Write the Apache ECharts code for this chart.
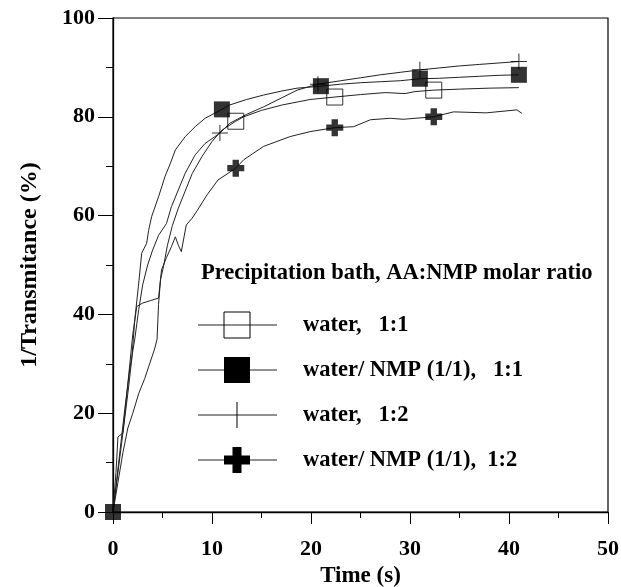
<!DOCTYPE html>
<html>
<head>
<meta charset="utf-8">
<script src="https://cdn.jsdelivr.net/npm/echarts@6/dist/echarts.min.js"></script>
<style>
  html, body { margin: 0; padding: 0; background: #fff; }
  #chart { width: 621px; height: 587px; }
</style>
</head>
<body>
<div id="chart"></div>
<script>
// Axis ticks
const xTicks = [0, 10, 20, 30, 40, 50];
const yTicks = [0, 20, 40, 60, 80, 100];

// Legend texts
const legendTitle = 'Precipitation bath, AA:NMP molar ratio';
const seriesNames = ['water,   1:1', 'water/ NMP (1/1),   1:1', 'water,   1:2', 'water/ NMP (1/1),  1:2'];

// water, 1:1  — time (s) / 1/transmittance (%)
const w11T = [0, 0.5, 1, 1.5, 2, 2.6, 3.2, 3.6, 4.2, 4.45, 4.6, 4.8, 5.1, 5.5, 6, 6.6, 7.3, 8, 9, 10, 11, 12.4, 13.2, 15, 17.1, 19.9, 22.4, 25, 27.5, 29.5, 30.5, 32.4, 35, 38, 41];
const w11V = [0, 6, 12, 17, 20, 24, 27, 29.4, 33, 35, 42, 47, 49.7, 54, 58, 61.5, 65, 68.5, 72, 75, 77.3, 79.1, 80, 81.3, 82.4, 83.5, 84, 84.5, 84.9, 84.7, 85.1, 85.4, 85.6, 85.8, 85.9];
const w11Marks = [12.4, 22.4, 32.4];

// water/NMP (1/1), 1:1
const wn11T = [0, 0.5, 1, 1.5, 1.9, 2.2, 2.56, 2.9, 3.4, 3.6, 3.9, 4.6, 5.25, 5.8, 6.3, 7.3, 8.3, 9.3, 11, 11.8, 13.5, 15.2, 17, 18.6, 21, 23, 25, 27, 29, 31, 33, 35, 37, 39, 41];
const wn11V = [0, 8, 16, 24, 31, 38.9, 45.6, 52.4, 54.4, 57, 59.8, 63.8, 67.9, 70.6, 73.3, 76, 78, 79.7, 81.5, 82.4, 83.5, 84.4, 85.2, 85.8, 86.2, 86.6, 86.9, 87.1, 87.3, 87.7, 87.8, 88, 88.2, 88.4, 88.5];
const wn11Marks = [0, 11, 21, 31, 41];

// water, 1:2
const w12T = [0, 0.4, 0.8, 1.2, 1.7, 2.2, 2.6, 3, 3.5, 4, 4.6, 5.4, 5.9, 6.6, 7.3, 8.3, 9.3, 10.8, 11.8, 13.5, 15.2, 17, 18.6, 20.7, 23, 25, 27, 29, 31, 33, 35, 37, 39, 41];
const w12V = [0, 7, 14, 21, 29, 35, 41, 46, 50, 53, 56, 58.4, 61.8, 65.2, 68.6, 72.3, 74.6, 76.7, 78.7, 80.5, 82, 83.8, 85.4, 86.6, 87.3, 87.9, 88.5, 89, 89.5, 89.9, 90.3, 90.6, 90.9, 91.2];
const w12Marks = [10.8, 20.7, 31, 41];

// water/NMP (1/1), 1:2
const wn12T = [0, 0.3, 0.5, 1, 1.3, 1.7, 2, 2.4, 3, 3.8, 4.6, 4.9, 5.4, 5.9, 6.3, 6.6, 6.9, 7.4, 8, 8.5, 9.5, 10.6, 12.4, 13.2, 15.2, 17.9, 19.9, 22.4, 24.3, 26, 28, 29.3, 32.4, 34.4, 37.7, 40.8, 41.3];
const wn12V = [0, 8, 15.2, 16, 22, 30, 36, 41.6, 42.3, 42.8, 43.3, 49, 51.5, 53.7, 55.7, 54, 52.7, 58.1, 59.5, 61, 64.2, 67.2, 69.6, 71.3, 74, 76, 77, 77.8, 78, 79.4, 79.7, 79.5, 80, 81, 80.8, 81.4, 80.7];
const wn12Marks = [12.4, 22.4, 32.4];

const FONT = "'Liberation Serif', 'Times New Roman', serif";
const INK = '#000';

// Marker shapes
const THIN_PLUS = 'path://M7.5,0h1v7.5h7.5v1h-7.5v7.5h-1v-7.5h-7.5v-1h7.5z';
const THICK_PLUS = 'path://M5,0h6v5h5v6h-5v5h-6v-5h-5v-6h5z';

function pairs(t, v) { return t.map((x, i) => [x, v[i]]); }
function marks(t, v, at) { return at.map(x => [x, v[t.indexOf(x)]]); }

function curve(name, t, v) {
  return {
    name, type: 'line', data: pairs(t, v), showSymbol: false, smooth: false,
    lineStyle: { color: '#222', width: 1 }, z: 2, silent: true
  };
}
function markerSeries(name, t, v, at, symbol, size, style) {
  return {
    name, type: 'scatter', data: marks(t, v, at), symbol, symbolSize: size,
    itemStyle: style, z: 5, silent: true
  };
}

const chart = echarts.init(document.getElementById('chart'), null, { renderer: 'canvas' });

const axisText = { color: INK, fontFamily: FONT, fontWeight: 'bold', fontSize: 22 };

// Legend drawn as graphic elements
const legendX0 = 198, legendX1 = 277, legendMx = 237, legendTextX = 303;
const rowY = [325, 370, 415, 460];
const legendGraphics = [
  { type: 'text', left: 201, top: 262, style: { text: legendTitle, fill: INK, font: `bold 22.5px ${FONT}` } }
];
rowY.forEach((y, i) => {
  legendGraphics.push({ type: 'line', shape: { x1: legendX0, y1: y, x2: legendX1, y2: y }, style: { stroke: '#222', lineWidth: 1 } });
  legendGraphics.push({ type: 'text', x: legendTextX, y: y, style: { text: seriesNames[i], fill: INK, font: `bold 22.5px ${FONT}`, textVerticalAlign: 'middle', verticalAlign: 'middle' } });
});
const S = 13; // half size of legend markers
legendGraphics.push({ type: 'rect', shape: { x: legendMx - S, y: rowY[0] - S, width: 2 * S, height: 2 * S }, style: { fill: 'none', stroke: INK, lineWidth: 1 }, z: 10 });
legendGraphics.push({ type: 'rect', shape: { x: legendMx - S, y: rowY[1] - S, width: 2 * S, height: 2 * S }, style: { fill: INK }, z: 10 });
legendGraphics.push({ type: 'line', shape: { x1: legendMx, y1: rowY[2] - S, x2: legendMx, y2: rowY[2] + S }, style: { stroke: INK, lineWidth: 1 }, z: 10 });
(function () {
  const cx = legendMx, cy = rowY[3], a = 13, b = 4.5;
  legendGraphics.push({
    type: 'polygon', z: 10,
    shape: { points: [[cx - b, cy - a], [cx + b, cy - a], [cx + b, cy - b], [cx + a, cy - b], [cx + a, cy + b], [cx + b, cy + b], [cx + b, cy + a], [cx - b, cy + a], [cx - b, cy + b], [cx - a, cy + b], [cx - a, cy - b], [cx - b, cy - b]] },
    style: { fill: INK }
  });
})();

const option = {
  backgroundColor: '#fff',
  animation: false,
  grid: {
    left: 113, right: 13, top: 18, bottom: 75, outerBoundsMode: 'none', containLabel: false,
    show: true, borderColor: INK, borderWidth: 1.2, backgroundColor: 'transparent'
  },
  xAxis: {
    type: 'value', min: xTicks[0], max: xTicks[xTicks.length - 1], interval: 10,
    axisLine: { show: true, lineStyle: { color: INK, width: 1.3 } },
    axisTick: { show: true, inside: false, length: 12, lineStyle: { color: INK, width: 1 } },
    minorTick: { show: true, splitNumber: 2, length: 6, lineStyle: { color: INK, width: 1 } },
    splitLine: { show: false },
    axisLabel: Object.assign({ margin: 26 }, axisText),
    name: 'Time (s)', nameLocation: 'middle', nameGap: 49,
    nameTextStyle: { color: INK, fontFamily: FONT, fontWeight: 'bold', fontSize: 23 }
  },
  yAxis: {
    type: 'value', min: yTicks[0], max: yTicks[yTicks.length - 1], interval: 20,
    axisLine: { show: true, lineStyle: { color: INK, width: 1.3 } },
    axisTick: { show: true, inside: false, length: 15, lineStyle: { color: INK, width: 1 } },
    minorTick: { show: true, splitNumber: 2, length: 7, lineStyle: { color: INK, width: 1 } },
    splitLine: { show: false },
    axisLabel: Object.assign({ margin: 18 }, axisText),
    name: '1/Transmitance (%)', nameLocation: 'middle', nameGap: 71,
    nameTextStyle: { color: INK, fontFamily: FONT, fontWeight: 'bold', fontSize: 24 }
  },
  series: [
    curve(seriesNames[0], w11T, w11V),
    curve(seriesNames[1], wn11T, wn11V),
    curve(seriesNames[2], w12T, w12V),
    curve(seriesNames[3], wn12T, wn12V),
    markerSeries(seriesNames[0], w11T, w11V, w11Marks, 'rect', 16, { color: 'rgba(0,0,0,0)', borderColor: INK, borderWidth: 1 }),
    markerSeries(seriesNames[1], wn11T, wn11V, wn11Marks, 'rect', 16, { color: INK }),
    markerSeries(seriesNames[2], w12T, w12V, w12Marks, THIN_PLUS, 16, { color: INK }),
    markerSeries(seriesNames[3], wn12T, wn12V, wn12Marks, THICK_PLUS, 17, { color: INK })
  ],
  graphic: legendGraphics
};
chart.setOption(option);
</script>
</body>
</html>
